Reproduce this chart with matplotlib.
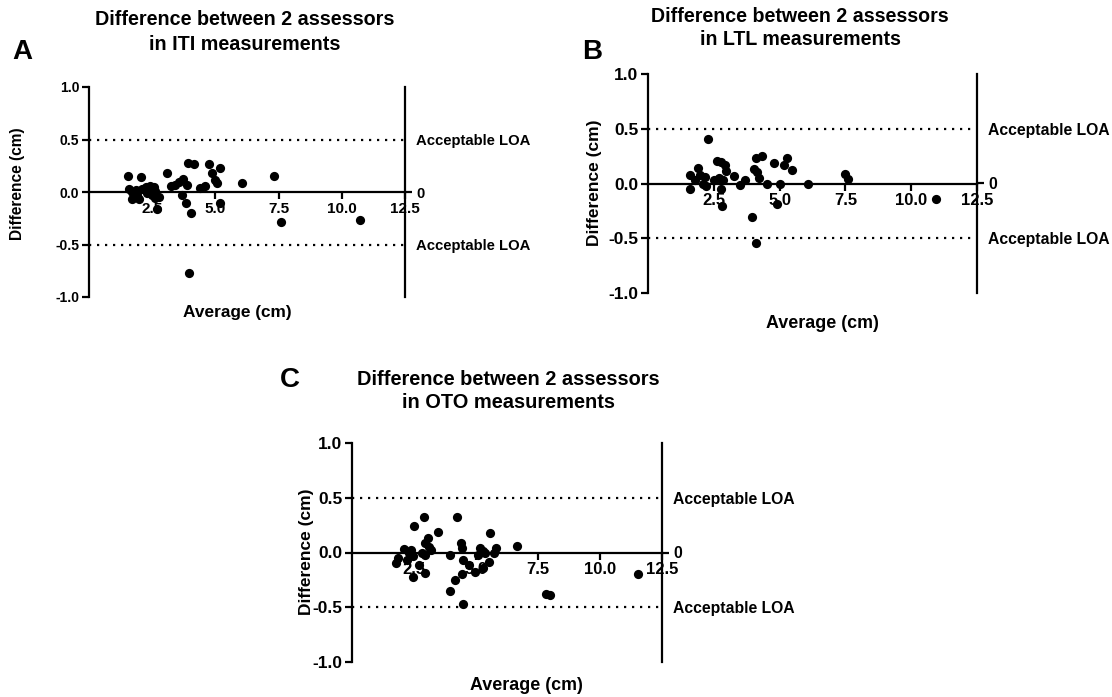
import matplotlib
matplotlib.use("Agg")
import matplotlib.pyplot as plt

plt.rcParams['font.family'] = ['Liberation Sans', 'DejaVu Sans']
plt.rcParams['font.weight'] = 'bold'

# Data (average, difference)
iti_avg = [1.54, 2.04, 1.58, 1.71, 1.84, 1.71, 1.97, 2.10, 2.24, 2.43, 2.57, 2.37, 2.50,
           2.63, 2.76, 2.70, 3.09, 3.25, 3.42, 3.55, 3.72, 3.88, 3.68, 3.82, 4.04, 3.91,
           4.17, 4.41, 4.60, 4.74, 4.87, 5.00, 5.07, 5.17, 5.20, 6.05, 7.33, 7.59, 10.72,
           3.95, 2.30, 2.60, 1.90]
iti_diff = [0.155, 0.14, 0.03, 0.0, 0.02, -0.065, -0.07, 0.03, 0.05, 0.06, 0.05, 0.0, -0.03,
            -0.06, -0.05, -0.16, 0.18, 0.055, 0.07, 0.10, 0.12, 0.07, -0.026, -0.10, -0.20, 0.28,
            0.27, 0.04, 0.06, 0.27, 0.18, 0.11, 0.09, 0.23, -0.10, 0.09, 0.15, -0.29, -0.27,
            -0.77, -0.01, 0.01, -0.03]

ltl_avg = [1.59, 1.61, 1.89, 1.99, 1.80, 2.18, 2.22, 2.10, 2.27, 2.62, 2.77, 2.94, 2.98,
           2.52, 2.69, 2.85, 2.77, 2.80, 3.25, 3.48, 3.67, 3.95, 4.11, 4.33, 4.04, 4.14,
           4.20, 4.11, 4.54, 4.77, 5.02, 4.89, 5.15, 5.27, 5.46, 6.09, 7.48, 7.60, 10.93]
ltl_diff = [0.077, -0.046, 0.14, 0.077, 0.03, 0.06, -0.025, 0.0, 0.41, 0.21, 0.20, 0.17, 0.11,
            0.03, 0.046, 0.03, -0.046, -0.21, 0.067, -0.015, 0.03, -0.31, 0.23, 0.25, 0.13, 0.107,
            0.046, -0.54, 0.0, 0.19, 0.0, -0.19, 0.17, 0.23, 0.12, 0.0, 0.086, 0.04, -0.14]

oto_avg = [1.76, 1.87, 2.08, 2.21, 2.36, 2.45, 2.28, 2.51, 2.45, 2.71, 2.82, 2.89, 2.93,
           2.96, 3.07, 3.12, 3.20, 2.93, 3.47, 3.94, 3.94, 4.14, 4.22, 4.41, 4.43, 4.48,
           4.45, 4.49, 4.73, 4.97, 5.10, 5.16, 5.29, 5.38, 5.27, 5.54, 5.58, 5.72, 5.79,
           6.65, 7.84, 7.98, 11.55]
oto_diff = [-0.097, -0.05, 0.03, -0.067, 0.024, -0.036, -0.006, 0.24, -0.22, -0.11, -0.006, 0.32, -0.19,
            0.085, 0.13, 0.05, 0.024, -0.02, 0.185, -0.02, -0.35, -0.255, 0.32, 0.09, 0.04, -0.067,
            -0.20, -0.47, -0.11, -0.18, -0.02, 0.04, 0.015, -0.006, -0.14, -0.09, 0.176, -0.006, 0.04,
            0.055, -0.38, -0.39, -0.195]

loa = 0.5
x_ticks = [2.5, 5.0, 7.5, 10.0, 12.5]
y_ticks = [-1.0, -0.5, 0.0, 0.5, 1.0]
title_1 = "Difference between 2 assessors"

fig = plt.figure(figsize=(11.12, 6.97), dpi=100)
W, H = 1112, 697


def px_axes(left, top, right, bottom):
    return fig.add_axes([left / W, 1 - bottom / H, (right - left) / W, (bottom - top) / H])


def bland_altman(ax, avg, diff, xt_size, yt_size, loa_size):
    ax.scatter(avg, diff, s=44, color='black', linewidths=0, zorder=3, clip_on=False)
    ax.axhline(loa, color='black', linestyle=(0, (1, 2.6)), linewidth=1.6)
    ax.axhline(-loa, color='black', linestyle=(0, (1, 2.6)), linewidth=1.6)
    ax.set_xlim(0, 12.5)
    ax.set_ylim(-1.0, 1.0)
    ax.spines['top'].set_visible(False)
    ax.spines['bottom'].set_position(('data', 0))
    for s in ['left', 'bottom', 'right']:
        ax.spines[s].set_linewidth(1.6)
    ax.set_xticks(x_ticks, labels=[f"{v:.1f}" for v in x_ticks])
    ax.set_yticks(y_ticks, labels=[f"{v:.1f}" for v in y_ticks])
    ax.tick_params(axis='both', direction='out', length=5, width=1.6, pad=2)
    ax.tick_params(axis='x', labelsize=xt_size)
    ax.tick_params(axis='y', labelsize=yt_size)
    for lab in ax.get_xticklabels() + ax.get_yticklabels():
        lab.set_fontweight('bold')
    # right side labels
    ax2 = ax.twinx()
    ax2.set_ylim(-1.0, 1.0)
    ax2.set_yticks([-loa, 0, loa], labels=['Acceptable LOA', '0', 'Acceptable LOA'])
    ax2.tick_params(axis='y', direction='out', length=5, width=1.6, labelsize=loa_size, pad=3)
    for t in ax2.yaxis.get_major_ticks():
        t.label2.set_fontweight('bold')
    ticks2 = ax2.yaxis.get_major_ticks()
    ticks2[0].tick2line.set_visible(False)
    ticks2[2].tick2line.set_visible(False)
    for s in ax2.spines.values():
        s.set_visible(False)


axA = px_axes(89, 87, 405, 297)
bland_altman(axA, iti_avg, iti_diff, 11, 10, 10.7)
axB = px_axes(648, 74, 977, 293)
bland_altman(axB, ltl_avg, ltl_diff, 12, 12.5, 11.3)
axC = px_axes(352, 443, 662, 662)
bland_altman(axC, oto_avg, oto_diff, 12, 12.5, 11.3)

letter_kw = dict(ha='center', va='center', fontsize=20, fontweight='bold')

# titles
fig.text(245 / W, 1 - 32 / H, title_1 + "\nin ITI measurements", ha='center', va='center',
         fontsize=14.2, fontweight='bold', linespacing=1.35)
fig.text(800 / W, 1 - 28 / H, title_1 + "\nin LTL measurements", ha='center', va='center',
         fontsize=14.1, fontweight='bold', linespacing=1.3)
fig.text(508 / W, 1 - 391 / H, title_1 + "\nin OTO measurements", ha='center', va='center',
         fontsize=14.4, fontweight='bold', linespacing=1.3)

fig.text(22 / W, 1 - 52 / H, "A", **letter_kw)
fig.text(592 / W, 1 - 52 / H, "B", **letter_kw)
fig.text(290 / W, 1 - 380 / H, "C", **letter_kw)

# axis labels
fig.text(237 / W, 1 - 313 / H, "Average (cm)", ha='center', va='center', fontsize=12.4, fontweight='bold')
fig.text(822 / W, 1 - 323 / H, "Average (cm)", ha='center', va='center', fontsize=12.9, fontweight='bold')
fig.text(526 / W, 1 - 685 / H, "Average (cm)", ha='center', va='center', fontsize=12.9, fontweight='bold')

fig.text(18 / W, 1 - 184 / H, "Difference (cm)", rotation=90, ha='center', va='center',
         fontsize=11.2, fontweight='bold')
fig.text(594 / W, 1 - 183 / H, "Difference (cm)", rotation=90, ha='center', va='center',
         fontsize=12.5, fontweight='bold')
fig.text(306 / W, 1 - 552 / H, "Difference (cm)", rotation=90, ha='center', va='center',
         fontsize=12.5, fontweight='bold')

fig.savefig("out.png", dpi=100)
